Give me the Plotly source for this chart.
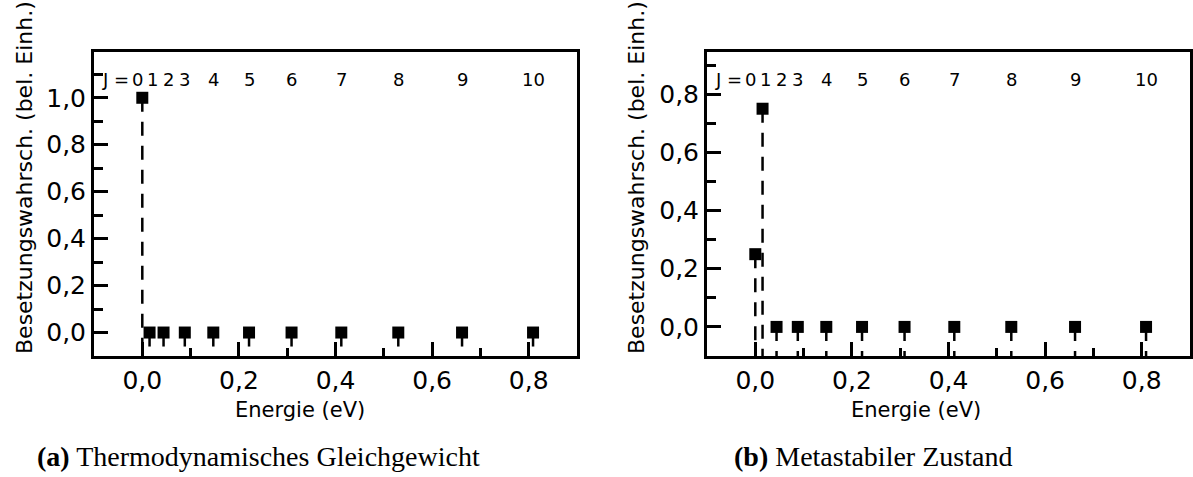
import plotly.graph_objects as go

# ---- data ----
J_levels = [0, 1, 2, 3, 4, 5, 6, 7, 8, 9, 10]
energies_eV = [0.0, 0.015, 0.044, 0.088, 0.147, 0.221, 0.309, 0.412, 0.530, 0.662, 0.809]
pop_equilibrium = [1.0, 0.0, 0.0, 0.0, 0.0, 0.0, 0.0, 0.0, 0.0, 0.0, 0.0]
pop_metastable = [0.25, 0.75, 0.0, 0.0, 0.0, 0.0, 0.0, 0.0, 0.0, 0.0, 0.0]
x_ticks = [0.0, 0.2, 0.4, 0.6, 0.8]
captions = ["<b>(a)</b> Thermodynamisches Gleichgewicht", "<b>(b)</b> Metastabiler Zustand"]
x_title = "Energie (eV)"
y_title = "Besetzungswahrsch. (bel. Einh.)"

W, H = 1193, 477
SANS = "DejaVu Sans"
SERIF = "Liberation Serif"

panels = [
    dict(pop=pop_equilibrium, xdom=(94, 577), yrange=[-0.1, 1.195], caption=captions[0],
         cap_x=258, xt_x=300, yt_x=24),
    dict(pop=pop_metastable, xdom=(707, 1190), yrange=[-0.1, 0.945], caption=captions[1],
         cap_x=873, xt_x=916, yt_x=636),
]
ytop, ybot = 52, 356

fig = go.Figure()
annotations = []
for i, p in enumerate(panels):
    n = "" if i == 0 else str(i + 1)
    xa, ya = "x" + n, "y" + n
    base = p["yrange"][0]
    # dashed drop lines from each point down to the bottom axis
    lx, ly = [], []
    for e, v in zip(energies_eV, p["pop"]):
        lx += [e, e, None]
        ly += [v, base, None]
    fig.add_trace(go.Scatter(x=lx, y=ly, mode="lines", xaxis=xa, yaxis=ya,
                             line=dict(color="black", width=2.5, dash="14px,10px"),
                             showlegend=False, hoverinfo="skip", cliponaxis=False))
    fig.add_trace(go.Scatter(x=energies_eV, y=p["pop"], mode="markers", xaxis=xa, yaxis=ya,
                             marker=dict(symbol="square", size=12, color="black"),
                             showlegend=False))
    axis_common = dict(showline=True, linewidth=3, linecolor="black", mirror=True,
                       ticks="inside", ticklen=14, tickwidth=3, tickcolor="black",
                       showgrid=False, zeroline=False,
                       tickfont=dict(family=SANS, size=25, color="black"))
    fig.layout["xaxis" + n] = dict(
        domain=[p["xdom"][0] / W, p["xdom"][1] / W], range=[-0.1, 0.9], anchor=ya,
        tickvals=x_ticks, tickformat=".1f",
        minor=dict(dtick=0.1, tick0=0, ticks="inside", ticklen=8, tickwidth=3, tickcolor="black"),
        **axis_common)
    fig.layout["yaxis" + n] = dict(
        domain=[1 - ybot / H, 1 - ytop / H], range=p["yrange"], anchor=xa,
        dtick=0.2, tick0=0, tickformat=".1f",
        minor=dict(dtick=0.1, tick0=0, ticks="inside", ticklen=9, tickwidth=3, tickcolor="black"),
        **axis_common)
    # J labels
    shifts = {0: -5, 1: 3, 2: 5}
    for j, e in zip(J_levels, energies_eV):
        annotations.append(dict(x=e, y=1 - 79 / H, xref=xa, yref="paper", text=str(j),
                                showarrow=False, xshift=shifts.get(j, 0),
                                xanchor="center", yanchor="middle",
                                font=dict(family=SANS, size=18, color="black")))
    annotations.append(dict(x=0, y=1 - 79 / H, xref=xa, yref="paper", text="J =",
                            showarrow=False, xanchor="right", yanchor="middle", xshift=-11,
                            font=dict(family=SANS, size=18, color="black")))
    # axis titles
    annotations.append(dict(x=p["xt_x"] / W, y=1 - 410 / H, xref="paper", yref="paper",
                            text=x_title, showarrow=False, xanchor="center", yanchor="middle",
                            font=dict(family=SANS, size=21, color="black")))
    annotations.append(dict(x=p["yt_x"] / W, y=1 - 178 / H, xref="paper", yref="paper",
                            text=y_title, showarrow=False, textangle=-90,
                            xanchor="center", yanchor="middle",
                            font=dict(family=SANS, size=22, color="black")))
    # caption
    annotations.append(dict(x=p["cap_x"] / W, y=1 - 456 / H, xref="paper", yref="paper",
                            text=p["caption"], showarrow=False,
                            xanchor="center", yanchor="middle",
                            font=dict(family=SERIF, size=28, color="black")))

fig.update_layout(width=W, height=H, margin=dict(l=0, r=0, t=0, b=0),
                  paper_bgcolor="white", plot_bgcolor="white",
                  separators=",.", annotations=annotations, showlegend=False)

fig.write_html("out.html")
